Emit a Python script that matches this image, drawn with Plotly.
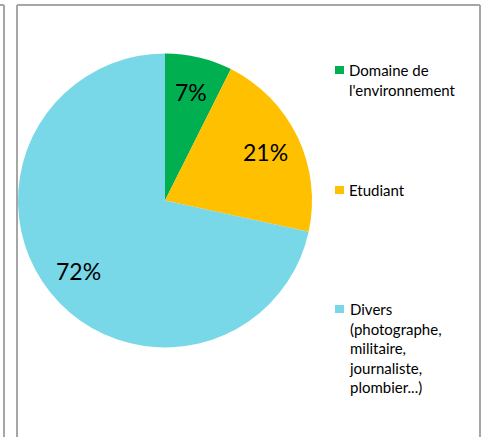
import math
import plotly.graph_objects as go

W, H = 486, 437

labels = ["Domaine de l'environnement", "Etudiant",
          "Divers (photographe, militaire, journaliste, plombier...)"]
legend_text = ["Domaine de<br>l'environnement", "Etudiant",
               "Divers<br>(photographe,<br>militaire,<br>journaliste,<br>plombier...)"]
values = [7.4, 21.0, 71.6]
colors = ["#00B050", "#FFC000", "#78D8E7"]
FONT = "Lato, 'Open Sans', sans-serif"
FRAME = "#a6a6a6"

CX, CY, R = 165, 200.5, 147


def px(x):
    return x / W


def py(y):
    return 1 - y / H


fig = go.Figure(go.Pie(
    labels=labels,
    values=values,
    marker={"colors": colors, "line": {"width": 0}},
    sort=False,
    direction="clockwise",
    rotation=0,
    textposition="none",
    showlegend=False,
    domain={"x": [px(CX - R), px(CX + R)], "y": [py(CY + R), py(CY - R)]},
    hoverinfo="label+percent",
))

annotations = []

# percentage labels along each slice's bisector, like the original
total = sum(values)
start = 0
for v in values:
    mid = (start + v / 2) / total * 2 * math.pi
    start += v
    annotations.append(dict(
        text=f"{round(100 * v / total)}%", xref="paper", yref="paper",
        x=px(CX + 0.76 * R * math.sin(mid)), y=py(CY - 0.76 * R * math.cos(mid)),
        xanchor="center", yanchor="middle", showarrow=False,
        font={"family": FONT, "size": 23, "color": "#000000"}))

# legend drawn by hand so the items spread down the side like the original
tops = [59, 179, 298]
shapes = []
for text, color, top in zip(legend_text, colors, tops):
    shapes.append(dict(type="rect", xref="paper", yref="paper",
                       x0=px(335), x1=px(344), y0=py(top + 7), y1=py(top + 15),
                       fillcolor=color, line={"width": 0}))
    annotations.append(dict(text=text, xref="paper", yref="paper",
                            x=px(347), y=py(top), xanchor="left", yanchor="top",
                            align="left", showarrow=False,
                            font={"family": FONT, "size": 15, "color": "#000000"}))

# chart frame lines
for x0, y0, x1, y1 in [(0, 5, 4, 5), (4, 5, 4, H), (17, 5, 480, 5),
                       (17, 5, 17, H), (480, 5, 480, H)]:
    shapes.append(dict(type="line", xref="paper", yref="paper",
                       x0=px(x0), y0=py(y0), x1=px(x1), y1=py(y1),
                       line={"color": FRAME, "width": 2}))

fig.update_layout(
    width=W, height=H,
    margin={"l": 0, "r": 0, "t": 0, "b": 0},
    paper_bgcolor="#ffffff",
    plot_bgcolor="#ffffff",
    shapes=shapes,
    annotations=annotations,
)
fig.write_html("out.html", config={"displayModeBar": False},
               post_script="document.body.style.margin='0';")
